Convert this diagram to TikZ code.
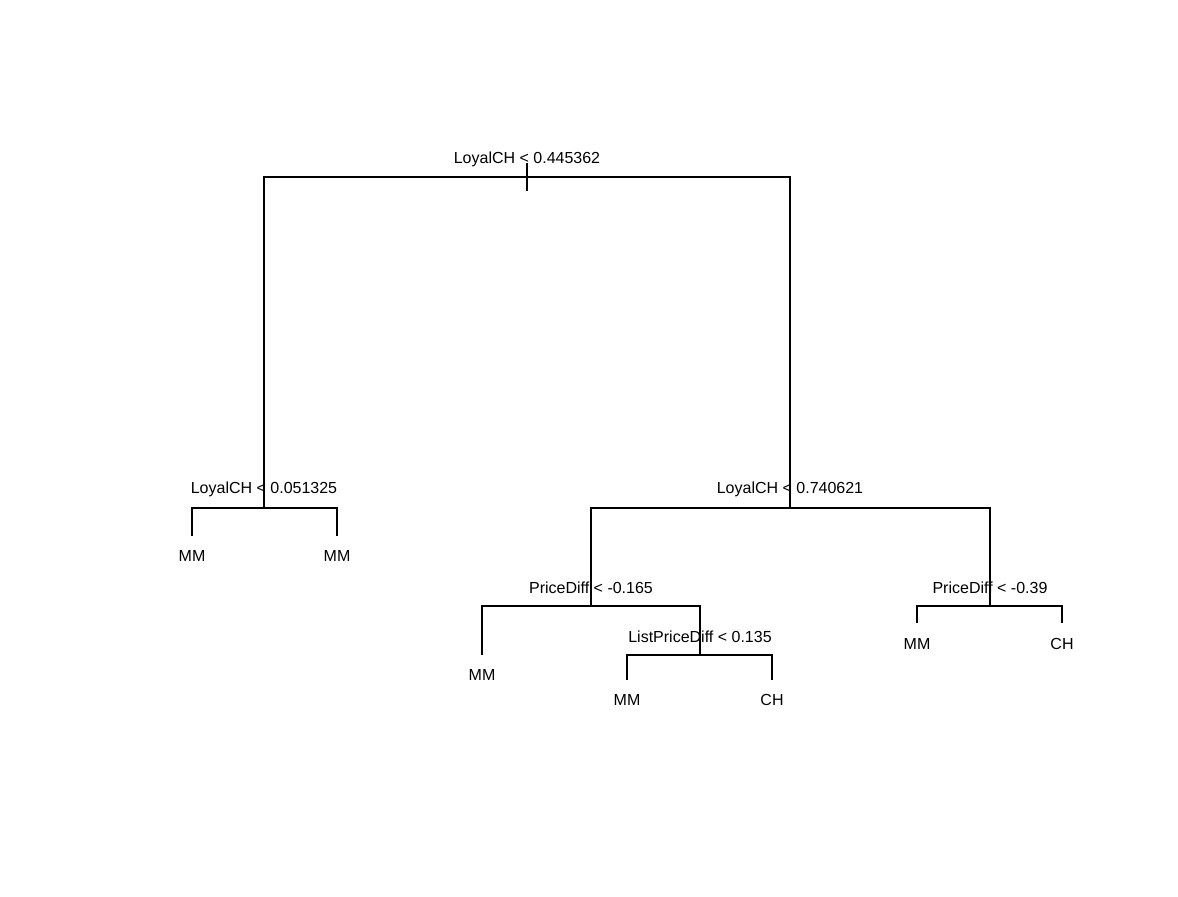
\documentclass[tikz,border=0pt]{standalone}
\usepackage{fontspec}
\setmainfont{Liberation Sans}
\usepackage{tikz}

\begin{document}
\begin{tikzpicture}[x=0.5pt,y=-0.5pt,
  branch/.style={line width=1.2pt},
  split/.style={anchor=base,font=\fontsize{8}{9.6}\selectfont},
  leaf/.style={anchor=base,font=\fontsize{8}{9.6}\selectfont}]
 \useasboundingbox (0,0) rectangle (1178,896);
 % split points
 \coordinate (root) at (527,177);
 \coordinate (rootTop) at (527,163);
 \coordinate (rootBot) at (527,191);
 \coordinate (left) at (264,508);
 \coordinate (right) at (790,508);
 \coordinate (price) at (591,606);
 \coordinate (list) at (700,655);
 \coordinate (priceR) at (990,606);
 % leaf ends
 \coordinate (lfA) at (192,536);
 \coordinate (lfB) at (337,536);
 \coordinate (lfC) at (482,655);
 \coordinate (lfD) at (627,680);
 \coordinate (lfE) at (772,680);
 \coordinate (lfF) at (917,623);
 \coordinate (lfG) at (1062,623);

 \draw[branch] (rootTop) -- (rootBot);
 \draw[branch] (root) -| (left);
 \draw[branch] (root) -| (right);
 \draw[branch] (left) -| (lfA);
 \draw[branch] (left) -| (lfB);
 \draw[branch] (right) -| (price);
 \draw[branch] (right) -| (priceR);
 \draw[branch] (price) -| (lfC);
 \draw[branch] (price) -| (list);
 \draw[branch] (list) -| (lfD);
 \draw[branch] (list) -| (lfE);
 \draw[branch] (priceR) -| (lfF);
 \draw[branch] (priceR) -| (lfG);

 % split labels
 \node[split] (tRoot) at (527,163) {LoyalCH < 0.445362};
 \node[split] (tLeft) at (264,493) {LoyalCH < 0.051325};
 \node[split] (tRight) at (790,493) {LoyalCH < 0.740621};
 \node[split] (tPrice) at (591,593) {PriceDiff < -0.165};
 \node[split] (tList) at (700,642) {ListPriceDiff < 0.135};
 \node[split] (tPriceR) at (990,593) {PriceDiff < -0.39};
 % leaf labels
 \node[leaf] (nA) at (192,561) {MM};
 \node[leaf] (nB) at (337,561) {MM};
 \node[leaf] (nC) at (482,680) {MM};
 \node[leaf] (nD) at (627,705) {MM};
 \node[leaf] (nE) at (772,705) {CH};
 \node[leaf] (nF) at (917,649) {MM};
 \node[leaf] (nG) at (1062,649) {CH};
\end{tikzpicture}
\end{document}
